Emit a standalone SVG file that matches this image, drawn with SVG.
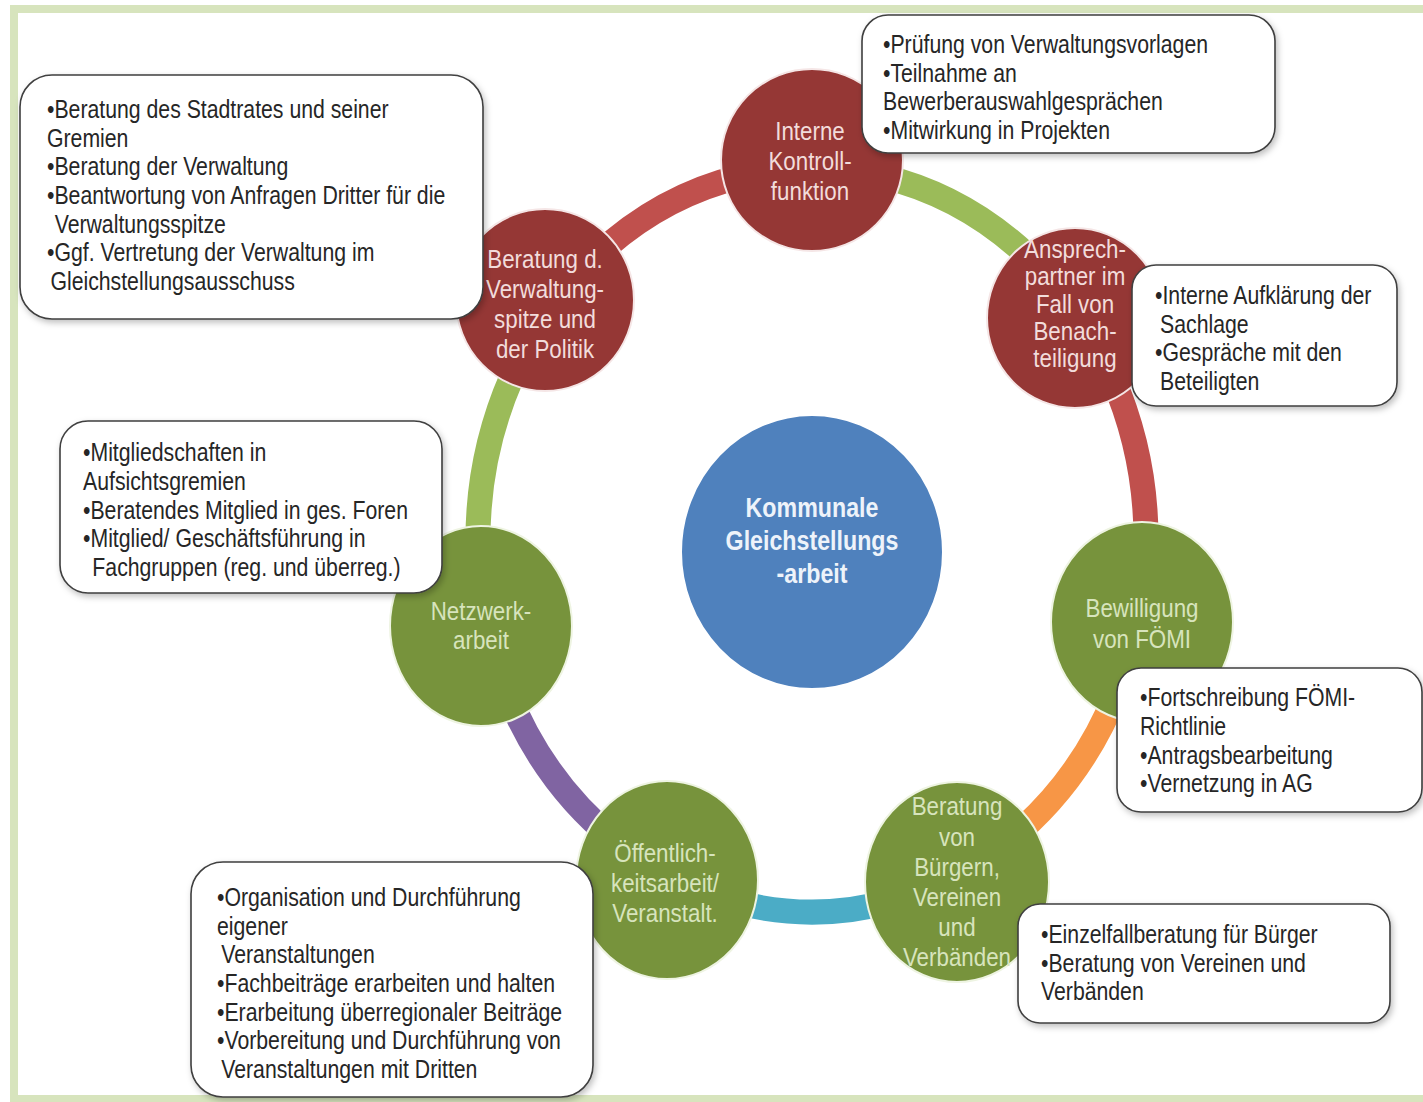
<svg xmlns="http://www.w3.org/2000/svg" width="1423" height="1102" viewBox="0 0 1423 1102">
  <defs>
    <filter id="sh" x="-10%" y="-10%" width="120%" height="130%">
      <feDropShadow dx="2" dy="3" stdDeviation="3" flood-color="#000" flood-opacity="0.25"/>
    </filter>
    <style>
      .arc { fill: none; stroke-width: 25; }
      .red { fill: #953735; stroke: #f5e6e6; stroke-width: 2; }
      .grn { fill: #77933c; stroke: #eef4e2; stroke-width: 2; }
      .blu { fill: #4f81bd; stroke: #ffffff; stroke-width: 2; }
      .lbl { font-family: "Liberation Sans", Arial, sans-serif; font-size: 26px; text-anchor: middle; }
      .lr { fill: #f2dcdb; }
      .lg { fill: #d7e4bd; }
      .ctr { font-family: "Liberation Sans", Arial, sans-serif; font-size: 27px; font-weight: bold; fill: #eef3fa; text-anchor: middle; }
      .box { fill: #ffffff; stroke: #3f3f3f; stroke-width: 1.6; filter: url(#sh); }
      .bt { font-family: "Liberation Sans", Arial, sans-serif; font-size: 25px; fill: #262626; }
    </style>
  </defs>

  <rect x="14" y="9" width="1420" height="1090" fill="#ffffff" stroke="#d7e4bd" stroke-width="8"/>

  <g id="connectors">
    <path class="arc" stroke="#c0504d" d="M 597.3 255.0 A 334 372 0 0 1 742.6 176.1"/>
    <path class="arc" stroke="#9bbb59" d="M 881.4 176.1 A 334 372 0 0 1 1026.7 255.0"/>
    <path class="arc" stroke="#c0504d" d="M 1112.2 376.9 A 334 372 0 0 1 1145.8 553.0"/>
    <path class="arc" stroke="#f79646" d="M 1117.1 691.3 A 334 372 0 0 1 1008.3 840.9"/>
    <path class="arc" stroke="#4bacc6" d="M 892.8 900.9 A 334 372 0 0 1 731.2 900.9"/>
    <path class="arc" stroke="#8064a2" d="M 615.7 840.9 A 334 372 0 0 1 506.9 691.3"/>
    <path class="arc" stroke="#9bbb59" d="M 478.2 553.0 A 334 372 0 0 1 511.8 376.9"/>
  </g>

  <g id="center">
    <ellipse class="blu" cx="812" cy="552" rx="131" ry="137"/>
    <g transform="translate(812,0) scale(0.86,1)">
      <text class="ctr" x="0" y="517">Kommunale</text>
      <text class="ctr" x="0" y="550">Gleichstellungs</text>
      <text class="ctr" x="0" y="583">-arbeit</text>
    </g>
  </g>

  <g id="node-interne">
    <ellipse class="red" cx="812" cy="160" rx="91" ry="91"/>
    <g transform="translate(810,0) scale(0.86,1)">
      <text class="lbl lr" x="0" y="140">Interne</text>
      <text class="lbl lr" x="0" y="170">Kontroll-</text>
      <text class="lbl lr" x="0" y="200">funktion</text>
    </g>
  </g>

  <g id="node-ansprech">
    <ellipse class="red" cx="1075" cy="318" rx="88" ry="90"/>
    <g transform="translate(1075,0) scale(0.86,1)">
      <text class="lbl lr" x="0" y="258">Ansprech-</text>
      <text class="lbl lr" x="0" y="285">partner im</text>
      <text class="lbl lr" x="0" y="313">Fall von</text>
      <text class="lbl lr" x="0" y="340">Benach-</text>
      <text class="lbl lr" x="0" y="367">teiligung</text>
    </g>
  </g>

  <g id="node-bewilligung">
    <ellipse class="grn" cx="1142" cy="622" rx="91" ry="100"/>
    <g transform="translate(1142,0) scale(0.86,1)">
      <text class="lbl lg" x="0" y="617">Bewilligung</text>
      <text class="lbl lg" x="0" y="648" font-size="25">von FÖMI</text>
    </g>
  </g>

  <g id="node-buerger">
    <ellipse class="grn" cx="957" cy="882" rx="92" ry="100"/>
    <g transform="translate(957,0) scale(0.86,1)">
      <text class="lbl lg" x="0" y="815">Beratung</text>
      <text class="lbl lg" x="0" y="846">von</text>
      <text class="lbl lg" x="0" y="876">Bürgern,</text>
      <text class="lbl lg" x="0" y="906">Vereinen</text>
      <text class="lbl lg" x="0" y="936">und</text>
      <text class="lbl lg" x="0" y="966">Verbänden</text>
    </g>
  </g>

  <g id="node-oeffentlich">
    <ellipse class="grn" cx="667" cy="880" rx="91" ry="99"/>
    <g transform="translate(665,0) scale(0.86,1)">
      <text class="lbl lg" x="0" y="862">Öffentlich-</text>
      <text class="lbl lg" x="0" y="892">keitsarbeit/</text>
      <text class="lbl lg" x="0" y="922">Veranstalt.</text>
    </g>
  </g>

  <g id="node-netzwerk">
    <ellipse class="grn" cx="481" cy="626" rx="91" ry="100"/>
    <g transform="translate(481,0) scale(0.86,1)">
      <text class="lbl lg" x="0" y="620">Netzwerk-</text>
      <text class="lbl lg" x="0" y="649">arbeit</text>
    </g>
  </g>

  <g id="node-beratung-politik">
    <ellipse class="red" cx="545" cy="300" rx="89" ry="91"/>
    <g transform="translate(545,0) scale(0.86,1)">
      <text class="lbl lr" x="0" y="268">Beratung d.</text>
      <text class="lbl lr" x="0" y="298">Verwaltung-</text>
      <text class="lbl lr" x="0" y="328">spitze und</text>
      <text class="lbl lr" x="0" y="358">der Politik</text>
    </g>
  </g>

  <g id="box-beratung-politik">
    <rect class="box" x="20" y="75" width="463" height="244" rx="32"/>
    <g transform="translate(47,0) scale(0.85,1)">
      <text class="bt" x="0" y="118">•Beratung des Stadtrates und seiner</text>
      <text class="bt" x="0" y="147">Gremien</text>
      <text class="bt" x="0" y="175">•Beratung der Verwaltung</text>
      <text class="bt" x="0" y="204">•Beantwortung von Anfragen Dritter für die</text>
      <text class="bt" x="9" y="233">Verwaltungsspitze</text>
      <text class="bt" x="0" y="261">•Ggf. Vertretung der Verwaltung im</text>
      <text class="bt" x="4" y="290">Gleichstellungsausschuss</text>
    </g>
  </g>

  <g id="box-interne">
    <rect class="box" x="862" y="15" width="413" height="138" rx="26"/>
    <g transform="translate(883,0) scale(0.85,1)">
      <text class="bt" x="0" y="53">•Prüfung von Verwaltungsvorlagen</text>
      <text class="bt" x="0" y="82">•Teilnahme an</text>
      <text class="bt" x="0" y="110">Bewerberauswahlgesprächen</text>
      <text class="bt" x="0" y="139">•Mitwirkung in Projekten</text>
    </g>
  </g>

  <g id="box-ansprech">
    <rect class="box" x="1132" y="265" width="265" height="141" rx="24"/>
    <g transform="translate(1155,0) scale(0.85,1)">
      <text class="bt" x="0" y="304">•Interne Aufklärung der</text>
      <text class="bt" x="6" y="333">Sachlage</text>
      <text class="bt" x="0" y="361">•Gespräche mit den</text>
      <text class="bt" x="6" y="390">Beteiligten</text>
    </g>
  </g>

  <g id="box-bewilligung">
    <rect class="box" x="1117" y="668" width="305" height="144" rx="24"/>
    <g transform="translate(1140,0) scale(0.85,1)">
      <text class="bt" x="0" y="706">•Fortschreibung FÖMI-</text>
      <text class="bt" x="0" y="735">Richtlinie</text>
      <text class="bt" x="0" y="764">•Antragsbearbeitung</text>
      <text class="bt" x="0" y="792">•Vernetzung in AG</text>
    </g>
  </g>

  <g id="box-buerger">
    <rect class="box" x="1018" y="904" width="372" height="119" rx="22"/>
    <g transform="translate(1041,0) scale(0.85,1)">
      <text class="bt" x="0" y="943">•Einzelfallberatung für Bürger</text>
      <text class="bt" x="0" y="972">•Beratung von Vereinen und</text>
      <text class="bt" x="0" y="1000">Verbänden</text>
    </g>
  </g>

  <g id="box-oeffentlich">
    <rect class="box" x="191" y="862" width="402" height="235" rx="32"/>
    <g transform="translate(217,0) scale(0.85,1)">
      <text class="bt" x="0" y="906">•Organisation und Durchführung</text>
      <text class="bt" x="0" y="935">eigener</text>
      <text class="bt" x="5" y="963">Veranstaltungen</text>
      <text class="bt" x="0" y="992">•Fachbeiträge erarbeiten und halten</text>
      <text class="bt" x="0" y="1021">•Erarbeitung überregionaler Beiträge</text>
      <text class="bt" x="0" y="1049">•Vorbereitung und Durchführung von</text>
      <text class="bt" x="5" y="1078">Veranstaltungen  mit Dritten</text>
    </g>
  </g>

  <g id="box-netzwerk">
    <rect class="box" x="60" y="421" width="382" height="172" rx="28"/>
    <g transform="translate(83,0) scale(0.85,1)">
      <text class="bt" x="0" y="461">•Mitgliedschaften in</text>
      <text class="bt" x="0" y="490">Aufsichtsgremien</text>
      <text class="bt" x="0" y="519">•Beratendes Mitglied in ges. Foren</text>
      <text class="bt" x="0" y="547">•Mitglied/ Geschäftsführung in</text>
      <text class="bt" x="11" y="576">Fachgruppen (reg. und überreg.)</text>
    </g>
  </g>
</svg>
